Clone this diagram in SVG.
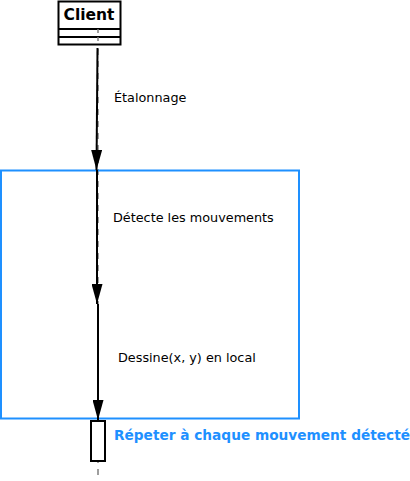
<svg xmlns="http://www.w3.org/2000/svg" width="410" height="481" viewBox="0 0 410 481">
<style>
.msg{font-family:"DejaVu Sans",sans-serif;font-size:12.8px;fill:#000}
.arr{stroke:#000;stroke-width:2;fill:none}
</style>
<defs>
<marker id="ah" markerWidth="20" markerHeight="11" refX="20" refY="5.5" orient="auto" markerUnits="userSpaceOnUse" viewBox="0 0 20 11">
<path d="M0,0 L20,5.5 L0,11 Z" fill="#000"/>
</marker>
</defs>
<rect width="410" height="481" fill="#fff"/>
<g id="lifeline">
<line x1="98" y1="37" x2="98" y2="481" stroke="#808080" stroke-width="1.5" stroke-dasharray="6,6"/>
</g>
<g id="client">
<rect x="58.5" y="1.5" width="62" height="43" fill="#fff" stroke="#000" stroke-width="2"/>
<line x1="58.5" y1="29" x2="120.5" y2="29" stroke="#000" stroke-width="2"/>
<line x1="58.5" y1="37" x2="120.5" y2="37" stroke="#000" stroke-width="2"/>
<line x1="98" y1="29" x2="98" y2="45" stroke="#808080" stroke-width="1.5" stroke-dasharray="4,4"/>
<text x="89" y="20" text-anchor="middle" font-family="DejaVu Sans,sans-serif" font-size="15.5" font-weight="bold">Client</text>
</g>
<g id="loop">
<rect x="1" y="170.5" width="298" height="248" fill="none" stroke="#1e90ff" stroke-width="2"/>
<text x="114" y="440" font-family="DejaVu Sans,sans-serif" font-size="13.7" font-weight="bold" fill="#1e90ff">Répeter à chaque mouvement détecté</text>
</g>
<g id="activation">
<rect x="91" y="421" width="14" height="40" fill="#fff" stroke="#000" stroke-width="2"/>
</g>
<g id="connectors">
<line class="arr" x1="97.5" y1="48" x2="96.5" y2="170" marker-end="url(#ah)"/>
<line class="arr" x1="97" y1="170" x2="97" y2="304" marker-end="url(#ah)"/>
<line class="arr" x1="98" y1="304" x2="98" y2="420" marker-end="url(#ah)"/>
<text class="msg" x="114" y="102">Étalonnage</text>
<text class="msg" x="113" y="222">Détecte les mouvements</text>
<text class="msg" x="118" y="362">Dessine(x, y) en local</text>
</g>
</svg>
